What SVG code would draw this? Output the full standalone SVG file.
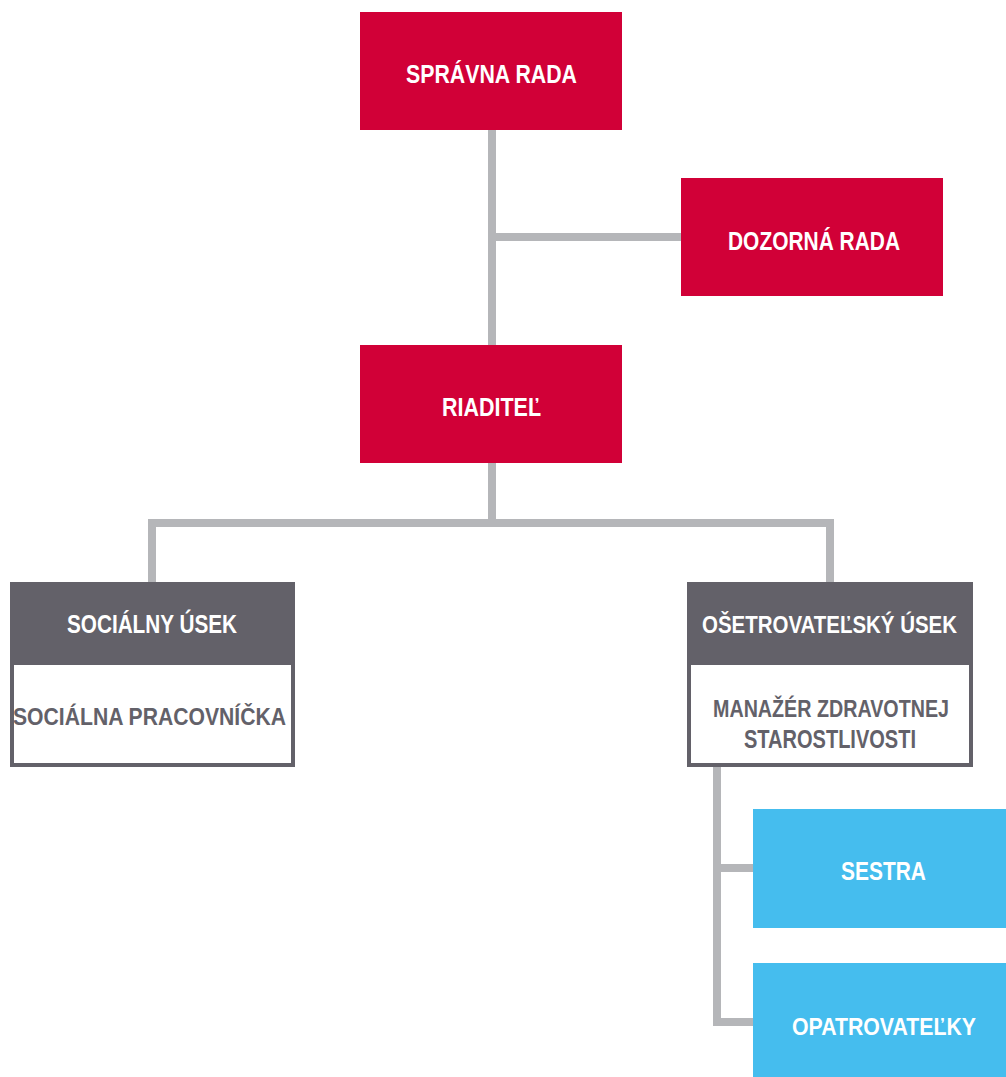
<svg xmlns="http://www.w3.org/2000/svg" width="1006" height="1077" viewBox="0 0 1006 1077">
<style>
.red{fill:#d10037}
.hdr{fill:#636169}
.blue{fill:#45bdee}
.sub{fill:#ffffff;stroke:#636169;stroke-width:4}
.t{font-family:"Liberation Sans Narrow","Liberation Sans",Arial,sans-serif;font-weight:bold;font-size:25px;text-anchor:middle}
.s{font-size:24px}
.w{fill:#ffffff}
.g{fill:#636169}
.ln{fill:none;stroke:#b5b6b9;stroke-width:8}
</style>
<rect width="1006" height="1077" fill="#ffffff"/>
<g id="connectors">
<path class="ln" d="M492 130 V345"/>
<path class="ln" d="M492 237 H681"/>
<path class="ln" d="M492 463 V523"/>
<path class="ln" d="M152 582 V523 H830 V582"/>
<path class="ln" d="M717 767 V1022 H753"/>
<path class="ln" d="M717 868 H753"/>
</g>
<g id="spravna-rada">
<rect class="red" x="360" y="12" width="262" height="118"/>
<text class="t w" x="491.5" y="83" textLength="171" lengthAdjust="spacingAndGlyphs">SPRÁVNA RADA</text>
</g>
<g id="dozorna-rada">
<rect class="red" x="681" y="178" width="262" height="118"/>
<text class="t w" x="814" y="250" textLength="172" lengthAdjust="spacingAndGlyphs">DOZORNÁ RADA</text>
</g>
<g id="riaditel">
<rect class="red" x="360" y="345" width="262" height="118"/>
<text class="t w" x="491.5" y="416" textLength="99" lengthAdjust="spacingAndGlyphs">RIADITEĽ</text>
</g>
<g id="socialny-usek">
<rect class="sub" x="12" y="663" width="281" height="102"/>
<rect class="hdr" x="10" y="582" width="285" height="83"/>
<text class="t w" x="152" y="633" textLength="170" lengthAdjust="spacingAndGlyphs">SOCIÁLNY ÚSEK</text>
<text class="t s g" x="149.5" y="725" textLength="273" lengthAdjust="spacingAndGlyphs">SOCIÁLNA PRACOVNÍČKA</text>
</g>
<g id="osetrovatelsky-usek">
<rect class="sub" x="689" y="663" width="282" height="102"/>
<rect class="hdr" x="687" y="582" width="286" height="83"/>
<text class="t s w" x="829.5" y="633" textLength="255" lengthAdjust="spacingAndGlyphs">OŠETROVATEĽSKÝ ÚSEK</text>
<text class="t s g" x="831" y="717" textLength="236" lengthAdjust="spacingAndGlyphs">MANAŽÉR ZDRAVOTNEJ</text>
<text class="t g" x="830" y="748" textLength="172" lengthAdjust="spacingAndGlyphs">STAROSTLIVOSTI</text>
</g>
<g id="sestra">
<rect class="blue" x="753" y="809" width="253" height="119"/>
<text class="t w" x="883.5" y="880" textLength="85" lengthAdjust="spacingAndGlyphs">SESTRA</text>
</g>
<g id="opatrovatelky">
<rect class="blue" x="753" y="963" width="253" height="114"/>
<text class="t s w" x="884" y="1035" textLength="184" lengthAdjust="spacingAndGlyphs">OPATROVATEĽKY</text>
</g>
</svg>
